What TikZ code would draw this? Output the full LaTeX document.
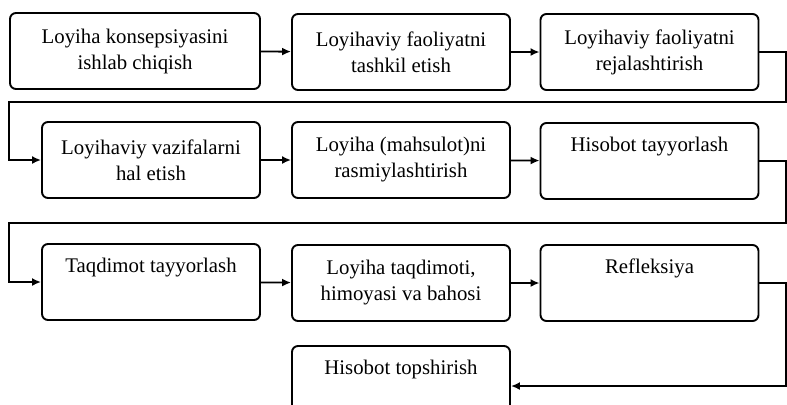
\documentclass[tikz,border=0pt]{standalone}
\usepackage{fontspec}
\setmainfont{Liberation Serif}
\usetikzlibrary{arrows.meta}
\begin{document}
\begin{tikzpicture}[x=0.5pt,y=-0.5pt,
  line width=0.95pt,
  main node/.style={rectangle,rounded corners=3pt,draw,align=center,
    font=\fontsize{10.4}{13}\selectfont,minimum width=109pt,minimum height=38pt,inner sep=0pt},
  flow/.style={-{Latex[length=4.5pt,width=4pt]}}]
  \clip (0,0) rectangle (787,404);

  \node[main node,minimum width=125pt] (1) at (135,51) {Loyiha konsepsiyasini\\ishlab chiqish};
  \node[main node] (2) at (401,52) {Loyihaviy faoliyatni\\tashkil etish};
  \node[main node] (3) at (649.5,52) {Loyihaviy faoliyatni\\rejalashtirish};
  \node[main node] (4) at (151,160) {Loyihaviy vazifalarni\\hal etish};
  \node[main node] (5) at (401,160) {Loyiha (mahsulot)ni\\rasmiylashtirish};
  \node[main node] (6) at (649.5,161) {Hisobot tayyorlash\\\strut};
  \node[main node] (7) at (151,282) {Taqdimot tayyorlash\\\strut};
  \node[main node] (8) at (401,283) {Loyiha taqdimoti,\\himoyasi va bahosi};
  \node[main node] (9) at (649.5,283) {Refleksiya\\\strut};
  \node[main node] (10) at (401,384) {Hisobot topshirish\\\strut};
  \path[flow]
   (1) edge (2)
   (2) edge (3)
   (4) edge (5)
   (5) edge (6)
   (7) edge (8)
   (8) edge (9);
  \draw[flow] (3.east) -| (786,102) -| (9,160) -- (4.west);
  \draw[flow] (6.east) -| (786,223) -| (9,282) -- (7.west);
  \draw[flow] (9.east) -| (786,386) -- (10.east |- 0,386);
\end{tikzpicture}
\end{document}
